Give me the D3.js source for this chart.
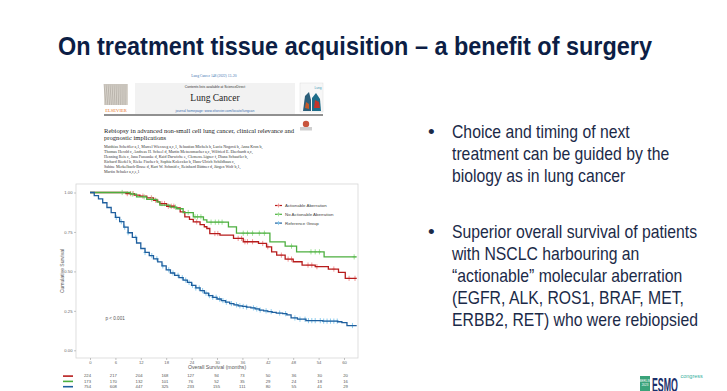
<!DOCTYPE html>
<html>
<head>
<meta charset="utf-8">
<script src="https://cdn.jsdelivr.net/npm/d3@7"></script>
<style>
  body { margin: 0; background: #fff; }
  svg { display: block; }
</style>
</head>
<body>
<script>
const width = 727;
const height = 391;

// ---- data ----
const monthTicks = [0, 6, 12, 18, 24, 30, 36, 42, 48, 54, 60];
const survTicks = [0, 0.25, 0.5, 0.75, 1];
const groups = ["Actionable Aberration", "No Actionable Aberration", "Reference Group"];

// Kaplan-Meier steps [month, survival]
const actionable = [[0,1],[8.5,0.993],[10.5,0.984],[11.8,0.977],[13.4,0.966],[15,0.951],[16,0.94],[16.5,0.93],
  [18.1,0.913],[20.1,0.903],[21.3,0.877],[22.4,0.846],[23.5,0.83],[24.4,0.814],[26,0.797],[27,0.783],[27.6,0.772],
  [28.3,0.74],[30.7,0.73],[33.9,0.709],[36.2,0.688],[39.8,0.677],[41.7,0.656],[42.9,0.624],[44.1,0.603],
  [46.1,0.578],[48,0.561],[50.1,0.54],[53.2,0.53],[56.3,0.515],[58.7,0.494],[60.3,0.456],[63,0.456]];
const noActionable = [[0,1],[9.5,0.99],[11,0.972],[13.4,0.957],[15.8,0.94],[16.5,0.92],[18.9,0.907],[20.5,0.897],
  [22,0.873],[24.4,0.846],[26.8,0.826],[27.6,0.812],[32.7,0.782],[34.6,0.742],[42.5,0.687],[46.1,0.66],
  [48.8,0.624],[55.3,0.592],[63,0.592]];
const reference = [[0,1],[1,0.98],[2,0.96],[3,0.935],[4,0.905],[5,0.872],[6,0.842],[7,0.815],[8,0.78],[9,0.745],
  [10,0.715],[11,0.68],[12,0.645],[13,0.62],[14,0.6],[15,0.58],[16,0.56],[17,0.535],[18,0.51],[19,0.49],
  [20,0.475],[21,0.46],[22,0.445],[23,0.43],[24,0.412],[25,0.395],[26,0.378],[27,0.362],[28,0.347],[29,0.336],
  [30,0.325],[31,0.315],[32,0.305],[33,0.296],[34,0.288],[35,0.282],[36,0.278],[37,0.274],[38,0.269],[39,0.262],
  [40,0.255],[41,0.25],[42,0.245],[43,0.24],[44,0.236],[45.5,0.232],[46.5,0.224],[47.5,0.205],[49,0.197],
  [51,0.188],[55,0.185],[58.5,0.181],[59.5,0.175],[60.7,0.157],[63,0.157]];

// censored observations (months)
const censorActionable = [8.8,9.6,10.2,12.5,14.5,15.5,17,17.6,18.5,19.2,19.8,25.2,29.5,30.2,35,35.8,36.6,37.2,38.4,
  40.8,42,45.2,46.8,47.6,51.5,52.4,53.6,57.6,61.2,62.6];
const censorNoActionable = [7.6,10,12.8,14.6,20.2,23.2,24.8,25.4,26.2,28.6,29.6,30.4,31.2,36.2,37.2,38.4,40,41.2,
  47.6,52.2,53.2,54.2,62.4];
const censorReference = [6.2,7.4,8.2,9,10.8,13,14.6,15.8,17.2,18.6,19.6,20.8,21.8,22.6,23.4,24.2,25,25.8,26.6,27.4,
  28.2,29,29.8,30.6,31.4,32.2,33.4,34.6,35.4,36.2,37,38.6,39.4,40.2,41.6,42.8,44.8,46.2,48.4,49.6,50.8,51.6,52.4,
  53.2,54.4,55.2,56,56.8,57.6,58.4,62];

// numbers at risk
const riskActionable = [224, 217, 204, 168, 127, 94, 73, 50, 36, 30, 20];
const riskNoActionable = [173, 170, 132, 101, 76, 52, 35, 29, 24, 18, 16];
const riskReference = [754, 608, 447, 325, 233, 155, 111, 80, 55, 41, 29];

const bullets = [
  ["Choice and timing of next", "treatment can be guided by the", "biology as in lung cancer"],
  ["Superior overall survival of patients", "with NSCLC harbouring an", "\u201cactionable\u201d molecular aberration",
   "(EGFR, ALK, ROS1, BRAF, MET,", "ERBB2, RET) who were rebiopsied"]
];

const authors = [
  "Matthias Scheffler a,1, Marcel Wiesweg a,c,1, Sebastian Michels b, Lucia Nogov\u00e1 b, Anna Kron b,",
  "Thomas Herold c, Andreas H. Scheel d, Martin Metzenmacher a,c, Wilfried E. Eberhardt a,c,",
  "Henning Reis c, Jana Fassunke d, Kaid Darwiche e, Clemens Aigner f, Diana Schaufler b,",
  "Richard Riedel b, Rieke Fischer b, Sophia Koleczko b, Hans-Ulrich Schildhaus c,",
  "Sabine Merkelbach-Bruse d, Kurt W. Schmid c, Reinhard B\u00fcttner d, J\u00fcrgen Wolf b,1,",
  "Martin Schuler a,c,e,1"
];

const series = [actionable, noActionable, reference];
const censors = [censorActionable, censorNoActionable, censorReference];
const risks = [riskActionable, riskNoActionable, riskReference];
const colors = ["#b71c1c", "#4caf3f", "#1f5f9e"];
const lightColors = ["#f08a8a", "#95dc8c", "#7fc6ec"];

const navy = "#0c1e45";
const sans = "'Liberation Sans', Arial, sans-serif";

const svg = d3.select("body").append("svg")
    .attr("width", width)
    .attr("height", height)
    .attr("viewBox", [0, 0, width, height]);

svg.append("rect").attr("width", width).attr("height", height).attr("fill", "#fff");

// title
svg.append("text")
    .attr("x", 58).attr("y", 54.5)
    .attr("font-family", sans)
    .attr("font-weight", 700)
    .attr("font-size", 26)
    .attr("fill", navy)
    .attr("textLength", 594)
    .attr("lengthAdjust", "spacingAndGlyphs")
    .text("On treatment tissue acquisition \u2013 a benefit of surgery");

// bullets on the right (no narrow face installed, so squeeze horizontally)
const bulletG = svg.append("g")
    .attr("font-family", sans)
    .attr("font-size", 19)
    .attr("fill", "#1b2a48");
const bulletTop = [138, 238];
bullets.forEach((lines, i) => {
  bulletG.append("text").attr("x", 428).attr("y", bulletTop[i]).text("\u2022");
  const block = bulletG.append("g").attr("transform", `translate(452,${bulletTop[i]}) scale(0.83,1)`);
  lines.forEach((l, j) => {
    block.append("text").attr("x", 0).attr("y", j * 22).text(l);
  });
});

// ---- journal header snippet ----
const paper = svg.append("g");
paper.append("text").attr("x", 214).attr("y", 76.5).attr("text-anchor", "middle")
    .attr("font-family", "Liberation Serif, serif").attr("font-size", 3.6).attr("fill", "#3a6fb0")
    .text("Lung Cancer 148 (2022) 13\u201320");
// elsevier tree
paper.append("rect").attr("x", 104).attr("y", 84).attr("width", 24).attr("height", 21).attr("fill", "#d9d4cc");
const treeLines = d3.range(0, 24, 2);
paper.selectAll(".tree").data(treeLines).join("line")
    .attr("x1", d => 104 + d).attr("x2", d => 106 + d * 0.9)
    .attr("y1", 84).attr("y2", 105)
    .attr("stroke", "#9a958c").attr("stroke-width", 0.5);
paper.append("text").attr("x", 116).attr("y", 111.5).attr("text-anchor", "middle")
    .attr("font-family", "Liberation Serif, serif").attr("font-size", 4.6).attr("fill", "#e8731e")
    .text("ELSEVIER");
paper.append("rect").attr("x", 135).attr("y", 83).attr("width", 160).attr("height", 31).attr("fill", "#f2f2f2");
paper.append("text").attr("x", 215).attr("y", 88).attr("text-anchor", "middle")
    .attr("font-family", sans).attr("font-size", 3.4).attr("fill", "#333")
    .text("Contents lists available at ScienceDirect");
paper.append("text").attr("x", 215).attr("y", 100.5).attr("text-anchor", "middle")
    .attr("font-family", "Liberation Serif, serif").attr("font-size", 9.5).attr("fill", "#222")
    .text("Lung Cancer");
paper.append("text").attr("x", 215).attr("y", 111.5).attr("text-anchor", "middle")
    .attr("font-family", sans).attr("font-size", 3.4).attr("fill", "#3a6fb0")
    .text("journal homepage: www.elsevier.com/locate/lungcan");
// journal cover
paper.append("rect").attr("x", 300).attr("y", 83).attr("width", 23).attr("height", 29).attr("fill", "#f7f7f7")
    .attr("stroke", "#ddd").attr("stroke-width", 0.5);
paper.append("text").attr("x", 318).attr("y", 89).attr("text-anchor", "middle")
    .attr("font-family", sans).attr("font-size", 3.2).attr("fill", "#3f9ab5")
    .text("Lung");
paper.append("path").attr("d", "M303,111 L305,96 L309,92 L311,100 L311,111 Z").attr("fill", "#2c5f7a");
paper.append("path").attr("d", "M312,111 L312,98 L316,93 L320,99 L321,111 Z").attr("fill", "#1e6d8a");
paper.append("path").attr("d", "M314,108 L315,100 L319,102 L320,108 Z").attr("fill", "#c4332a");
paper.append("path").attr("d", "M305,108 L306,102 L309,104 L309,109 Z").attr("fill", "#c45a2a");
paper.append("line").attr("x1", 104).attr("x2", 323).attr("y1", 115).attr("y2", 115)
    .attr("stroke", "#222").attr("stroke-width", 1.2);
paper.append("text").attr("x", 104).attr("y", 133)
    .attr("font-family", "Liberation Serif, serif").attr("font-size", 6.6).attr("fill", "#222")
    .text("Rebiopsy in advanced non-small cell lung cancer, clinical relevance and");
paper.append("text").attr("x", 104).attr("y", 140)
    .attr("font-family", "Liberation Serif, serif").attr("font-size", 6.6).attr("fill", "#222")
    .text("prognostic implications");
paper.selectAll(".auth").data(authors).join("text")
    .attr("x", 104).attr("y", (d, i) => 148 + i * 5)
    .attr("font-family", "Liberation Serif, serif").attr("font-size", 4).attr("fill", "#333")
    .text(d => d);
// crossmark
paper.append("circle").attr("cx", 306).attr("cy", 124).attr("r", 3.2).attr("fill", "#c8553d");
paper.append("rect").attr("x", 300).attr("y", 127).attr("width", 12).attr("height", 3.5).attr("fill", "#cfcfcf");

// ---- Kaplan-Meier plot ----
const frame = { left: 76, right: 358, top: 184, bottom: 358 };
const x = d3.scaleLinear().domain([0, 60]).range([90, 344]);
const y = d3.scaleLinear().domain([0, 1]).range([350.3, 192.5]);

const plot = svg.append("g");
plot.append("rect")
    .attr("x", frame.left).attr("y", frame.top)
    .attr("width", frame.right - frame.left).attr("height", frame.bottom - frame.top)
    .attr("fill", "#fff").attr("stroke", "#d6d6d6").attr("stroke-width", 0.8);

const xAxis = plot.append("g")
    .attr("transform", `translate(0,${frame.bottom})`)
    .call(d3.axisBottom(x).tickValues(monthTicks).tickSize(2).tickPadding(1.5));
const yAxis = plot.append("g")
    .attr("transform", `translate(${frame.left},0)`)
    .call(d3.axisLeft(y).tickValues(survTicks).tickFormat(d3.format(".2f")).tickSize(2).tickPadding(1.5));
[xAxis, yAxis].forEach(a => {
  a.select(".domain").remove();
  a.selectAll("line").attr("stroke", "#888").attr("stroke-width", 0.5);
  a.selectAll("text").attr("font-family", sans).attr("font-size", 4.2).attr("fill", "#666");
});

plot.append("text")
    .attr("transform", `translate(63.5,${(frame.top + frame.bottom) / 2}) rotate(-90)`)
    .attr("text-anchor", "middle")
    .attr("font-family", sans).attr("font-size", 5).attr("fill", "#555")
    .text("Cumulative Survival");
plot.append("text")
    .attr("x", (frame.left + frame.right) / 2).attr("y", 369)
    .attr("text-anchor", "middle")
    .attr("font-family", sans).attr("font-size", 5.2).attr("fill", "#555")
    .text("Overall Survival (months)");

const line = d3.line()
    .x(d => x(d[0]))
    .y(d => y(d[1]))
    .curve(d3.curveStepAfter);

const survAt = (s, t) => s[d3.bisector(d => d[0]).right(s, t) - 1][1];

series.forEach((s, i) => {
  plot.append("g")
      .selectAll("path")
      .data(censors[i])
      .join("path")
      .attr("d", t => {
        const cx = x(t), cy = y(survAt(s, t));
        return `M${cx},${cy - 2.6}V${cy + 2.6}M${cx - 1.6},${cy}H${cx + 1.6}`;
      })
      .attr("stroke", lightColors[i])
      .attr("stroke-width", 0.9);
  plot.append("path")
      .datum(s)
      .attr("d", line)
      .attr("fill", "none")
      .attr("stroke", colors[i])
      .attr("stroke-width", 1.3);
});

// legend
const legend = plot.append("g");
groups.forEach((g, i) => {
  const ly = 205.5 + i * 8.8;
  legend.append("line").attr("x1", 275).attr("x2", 282).attr("y1", ly).attr("y2", ly)
      .attr("stroke", colors[i]).attr("stroke-width", 1.2);
  legend.append("path").attr("d", `M278.5,${ly - 2}V${ly + 2}M277,${ly}H280`)
      .attr("stroke", lightColors[i]).attr("stroke-width", 0.8);
  legend.append("text").attr("x", 285).attr("y", ly + 1.5)
      .attr("font-family", sans).attr("font-size", 4.4).attr("fill", "#444")
      .text(g);
});

plot.append("text").attr("x", 105.5).attr("y", 320)
    .attr("font-family", sans).attr("font-size", 4.6).attr("fill", "#555")
    .text("p < 0.001");

// numbers at risk
const xr = d3.scaleLinear().domain([0, 60]).range([87.5, 345.5]);
risks.forEach((r, i) => {
  const ry = 377.3 + i * 5.3;
  svg.append("line").attr("x1", 63).attr("x2", 73).attr("y1", ry - 1.2).attr("y2", ry - 1.2)
      .attr("stroke", colors[i]).attr("stroke-width", 1.6);
  svg.append("g").selectAll("text").data(r).join("text")
      .attr("x", (d, j) => xr(monthTicks[j]))
      .attr("y", ry)
      .attr("text-anchor", "middle")
      .attr("font-family", sans).attr("font-size", 4.2).attr("fill", "#555")
      .text(d => d);
});

// congress logo, bottom right
const logo = svg.append("g");
logo.append("rect").attr("x", 640).attr("y", 376).attr("width", 10).attr("height", 15).attr("fill", "#3aa37a");
logo.append("text").attr("x", 645).attr("y", 381.5).attr("text-anchor", "middle")
    .attr("font-family", sans).attr("font-size", 3).attr("fill", "#fff").text("BERLIN");
logo.append("text").attr("x", 645).attr("y", 386).attr("text-anchor", "middle")
    .attr("font-family", sans).attr("font-size", 3).attr("fill", "#fff").text("2023");
logo.append("g").attr("transform", "translate(652,392) scale(0.44,1)")
  .append("text")
    .attr("font-family", sans).attr("font-weight", 700).attr("font-size", 20).attr("fill", "#1b2f6b")
    .text("ESMO");
logo.append("text").attr("x", 680.5).attr("y", 378)
    .attr("font-family", sans).attr("font-size", 5.5).attr("fill", "#36b0a0")
    .text("congress");
</script>
</body>
</html>
